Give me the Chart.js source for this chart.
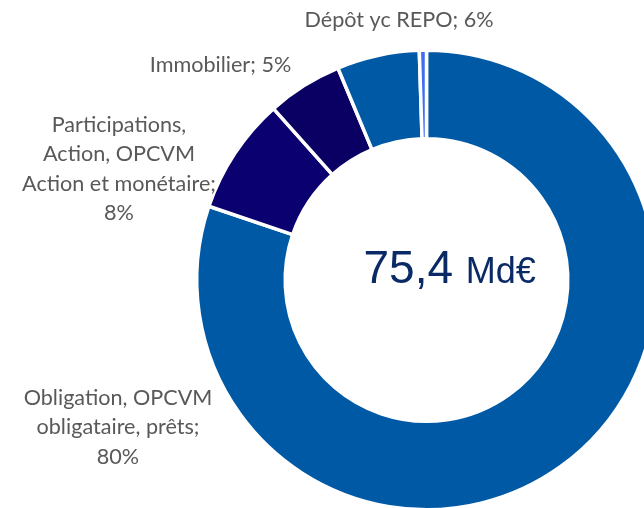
<!DOCTYPE html>
<html>
<head>
<meta charset="utf-8">
<script src="https://cdn.jsdelivr.net/npm/chart.js@4/dist/chart.umd.min.js"></script>
<style>
  html, body { margin: 0; padding: 0; width: 644px; height: 508px; overflow: hidden; background: #fff; }
  #wrap { position: absolute; left: 0; top: 0; width: 700px; height: 560px; }
</style>
</head>
<body>
<div id="wrap"><canvas id="c"></canvas></div>
<script>
// ---- data ----
const categories = [
  "Obligation, OPCVM obligataire, prêts",
  "Participations, Action, OPCVM Action et monétaire",
  "Immobilier",
  "Dépôt yc REPO",
  "Autres"
];
const values = [80.2, 8.2, 5.3, 5.8, 0.5];
const sliceColors = ["#0059a5", "#0b0070", "#0a0064", "#0059a5", "#3f6cf2"];
const labelLines = [
  ["Obligation, OPCVM", "obligataire, prêts;", "80%"],
  ["Participations,", "Action, OPCVM", "Action et monétaire;", "8%"],
  ["Immobilier; 5%"],
  ["Dépôt yc REPO; 6%"],
  []
];
const totalValue = "75,4";
const totalUnit = "Md€";

// label anchor (center x, first baseline y) in page pixels
const labelAnchors = [
  [118, 405],
  [119, 132],
  [220.5, 72],
  [399, 27],
  null
];

const labelPlugin = {
  id: 'labels',
  afterDraw(chart) {
    const ctx = chart.ctx;
    ctx.save();
    ctx.fillStyle = '#595959';
    ctx.font = '21.6px Lato';
    ctx.textAlign = 'center';
    ctx.textBaseline = 'alphabetic';
    labelLines.forEach((lines, i) => {
      const a = labelAnchors[i];
      if (!a) return;
      lines.forEach((t, j) => ctx.fillText(t, a[0], a[1] + j * 29.4));
    });
    // centre total
    const arc = chart.getDatasetMeta(0).data[0];
    const cx = arc.x, cy = arc.y;
    ctx.textAlign = 'left';
    ctx.fillStyle = '#0a2a66';
    ctx.font = '46px "Liberation Sans"';
    const x0 = cx - 63;
    ctx.fillText(totalValue, x0, cy + 3);
    const w1 = ctx.measureText(totalValue + ' ').width;
    ctx.font = '36px "Liberation Sans"';
    ctx.fillText(totalUnit, x0 + w1, cy + 3);
    ctx.restore();
  }
};

new Chart(document.getElementById('c'), {
  type: 'doughnut',
  data: {
    labels: categories,
    datasets: [{
      data: values,
      backgroundColor: sliceColors,
      borderColor: '#ffffff',
      borderWidth: 3.5,
      hoverOffset: 0
    }]
  },
  options: {
    responsive: true,
    maintainAspectRatio: false,
    animation: false,
    cutout: '61.5%',
    rotation: 0,
    layout: { padding: { left: 195, top: 48, right: 42, bottom: 48 } },
    plugins: {
      legend: { display: false },
      tooltip: { enabled: false }
    }
  },
  plugins: [labelPlugin]
});
</script>
</body>
</html>
